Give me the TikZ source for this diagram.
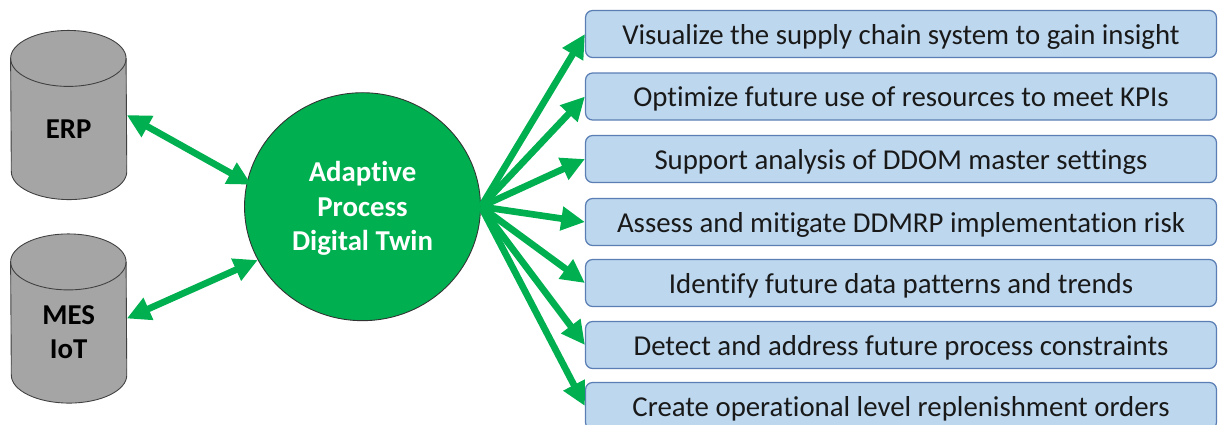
\documentclass[tikz,border=0pt]{standalone}
\usepackage{fontspec}
\setmainfont[Ligatures=NoCommon]{Carlito}
\usetikzlibrary{arrows.meta,shapes.geometric}
\definecolor{twingreen}{HTML}{00B050}
\definecolor{goalblue}{HTML}{BDD7EE}
\definecolor{goalline}{HTML}{5B7FB5}
\definecolor{storegray}{HTML}{A5A5A5}
\def\drum(#1){\draw[drumline] ([yshift=-0.56cm]#1.north west) arc (180:0:1.155cm and 0.56cm) -- ([yshift=0.56cm]#1.south east) arc (360:180:1.155cm and 0.56cm) -- cycle;
	\draw[draw=black!75, line width=0.5pt] ([yshift=-0.56cm]#1.north west) arc (180:360:1.155cm and 0.56cm);}
\tikzset{
	store/.style={minimum width=2.31cm, minimum height=3.37cm, inner sep=0pt},
	drumline/.style={draw=black!75, line width=0.5pt, fill=storegray},
	storetext/.style={inner sep=0pt, align=center, font=\fontsize{16.4}{19.5}\selectfont\bfseries},
	twin/.style={draw=black!80, line width=0.5pt, fill=twingreen, ellipse, minimum width=4.72cm, minimum height=4.56cm, inner sep=0pt},
	twintext/.style={inner sep=0pt, align=center, text=white, font=\fontsize{16.4}{19.5}\selectfont\bfseries},
	goal/.style={draw=goalline, line width=0.7pt, fill=goalblue, rounded corners=0.14cm, minimum width=12.62cm, minimum height=0.94cm, inner sep=0pt, text depth=0pt, font=\fontsize{16.4}{18}\selectfont, text=black!90},
	link/.style={draw=twingreen, line width=3.8pt, -{Triangle[width=13pt,length=13.5pt]}},
	biglink/.style={link, {Triangle[width=13pt,length=13.5pt]}-{Triangle[width=13pt,length=13.5pt]}}
}
\begin{document}
\begin{tikzpicture}[x=0.02cm, y=-0.02cm]
		%%%%% START %%%%%
		\useasboundingbox (0, 0) rectangle (1218, 424);
		\clip (0, 0) rectangle (1218, 424);
		
		\node[store] (erp) at (68.7, 115) {};
		\drum(erp);
		\node[storetext] (erplabel) at (68.7, 129) {ERP};
		\node[store] (mes) at (68.7, 318.5) {};
		\drum(mes);
		\node[storetext] (meslabel) at (68.7, 332.5) {MES\\IoT};
		\node[twin] (digital) at (362.5, 206.7) {};
		\node[twintext] (digitallabel) at (362.5, 208.5) {Adaptive\\Process\\Digital Twin};
		
		\node[goal] (visualize) at (901, 34) {Visualize the supply chain system to gain insight};
		\node[goal] (optimize) at (901, 96.5) {Optimize future use of resources to meet KPIs};
		\node[goal] (support) at (901, 159) {Support analysis of DDOM master settings};
		\node[goal] (assess) at (901, 222) {Assess and mitigate DDMRP implementation risk};
		\node[goal] (identify) at (901, 283) {Identify future data patterns and trends};
		\node[goal] (detect) at (901, 345) {Detect and address future process constraints};
		\node[goal] (create) at (901, 406) {Create operational level replenishment orders};
		
		\draw[biglink, shorten >=-3pt] (erp.east) -- (digital.168);
		\draw[biglink] (mes.east) -- (digital.207);
		
		\draw[link] (digital.east) -- (visualize.west);
		\draw[link] (digital.east) -- (optimize.west);
		\draw[link] (digital.east) -- (support.west);
		\draw[link] (digital.east) -- (assess.west);
		\draw[link] (digital.east) -- (identify.west);
		\draw[link] (digital.east) -- (detect.west);
		\draw[link] (digital.east) -- (create.west);
		%%%%% END %%%%%
	\end{tikzpicture}
\end{document}
